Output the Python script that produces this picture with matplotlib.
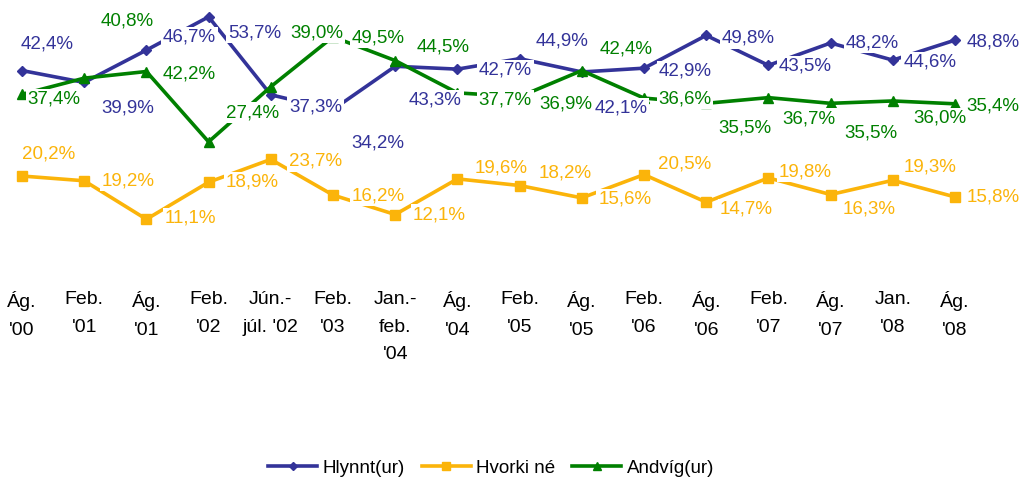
import matplotlib
matplotlib.use("Agg")
import matplotlib.pyplot as plt

plt.rcParams['font.family'] = ['Liberation Sans Narrow', 'Liberation Sans', 'DejaVu Sans']

periods = ["Ág.\n'00", "Feb.\n'01", "Ág.\n'01", "Feb.\n'02", "Jún.-\njúl. '02",
           "Feb.\n'03", "Jan.-\nfeb.\n'04", "Ág.\n'04", "Feb.\n'05", "Ág.\n'05",
           "Feb.\n'06", "Ág.\n'06", "Feb.\n'07", "Ág.\n'07", "Jan.\n'08", "Ág.\n'08"]

hlynnt = [42.4, 39.9, 46.7, 53.7, 37.3, 34.2, 43.3, 42.7, 44.9, 42.1,
          42.9, 49.8, 43.5, 48.2, 44.6, 48.8]
hvorki = [20.2, 19.2, 11.1, 18.9, 23.7, 16.2, 12.1, 19.6, 18.2, 15.6,
          20.5, 14.7, 19.8, 16.3, 19.3, 15.8]
andvig = [37.4, 40.8, 42.2, 27.4, 39.0, 49.5, 44.5, 37.7, 36.9, 42.4,
          36.6, 35.5, 36.7, 35.5, 36.0, 35.4]

# label offsets in pixels (dx right, dy down) from each point
blue_off = [(25, -27), (44, 26), (43, -13), (46, 16), (45, 12), (45, 33), (40, 34), (48, 1),
            (42, -18), (39, 36), (41, 3), (42, 3), (37, 1), (42, 0), (37, 2), (38, 2)]
green_off = [(32, 5), (43, -57), (43, 2), (44, -29), (46, -54), (45, 1), (48, -14), (48, 7),
             (46, 7), (44, -22), (41, 1), (39, 25), (41, 21), (40, 30), (47, 17), (38, 2)]
yellow_off = [(27, -22), (44, 0), (44, -1), (44, 0), (45, 2), (45, 1), (44, 0), (44, -11),
              (46, -13), (43, 1), (41, -11), (40, 7), (37, -6), (39, 14), (37, -13), (38, 0)]

blue = '#333399'
yellow = '#FBB40A'
green = '#008000'

fig = plt.figure(figsize=(10.32, 4.86), dpi=100)
ax = fig.add_axes([0, 1 - 272 / 486, 1, 272 / 486])

x = list(range(len(periods)))
l1, = ax.plot(x, hlynnt, color=blue, lw=2.6, marker='D', ms=5.5, label='Hlynnt(ur)', zorder=2)
l2, = ax.plot(x, hvorki, color=yellow, lw=2.6, marker='s', ms=7, label='Hvorki né', zorder=2)
l3, = ax.plot(x, andvig, color=green, lw=2.6, marker='^', ms=7, label='Andvíg(ur)', zorder=2)

for vals, offs, col in [(hlynnt, blue_off, blue), (andvig, green_off, green), (hvorki, yellow_off, yellow)]:
    for i, (v, (dx, dy)) in enumerate(zip(vals, offs)):
        ax.annotate(f"{v:.1f}%".replace('.', ','), (i, v), xytext=(dx, -dy),
                    textcoords='offset pixels', ha='center', va='center',
                    fontsize=13.5, color=col, zorder=3,
                    bbox=dict(boxstyle='square,pad=0.1', fc='white', ec='none'))

step = 62.2
ax.set_xlim(-22 / step, (1032 - 22) / step)
ax.set_ylim(0, 57.25)
ax.set_xticks(x, periods, fontsize=14, va='top', linespacing=1.8)
ax.tick_params(axis='x', length=0, pad=14)
ax.set_yticks([])
for s in ax.spines.values():
    s.set_visible(False)

fig.legend(handles=[l1, l2, l3], loc='center', bbox_to_anchor=(0.476, 0.037), ncol=3,
           frameon=False, fontsize=13.5, handlelength=2.6, handletextpad=0.3,
           columnspacing=0.9, markerscale=0.8)

fig.savefig('out.png', dpi=100)
